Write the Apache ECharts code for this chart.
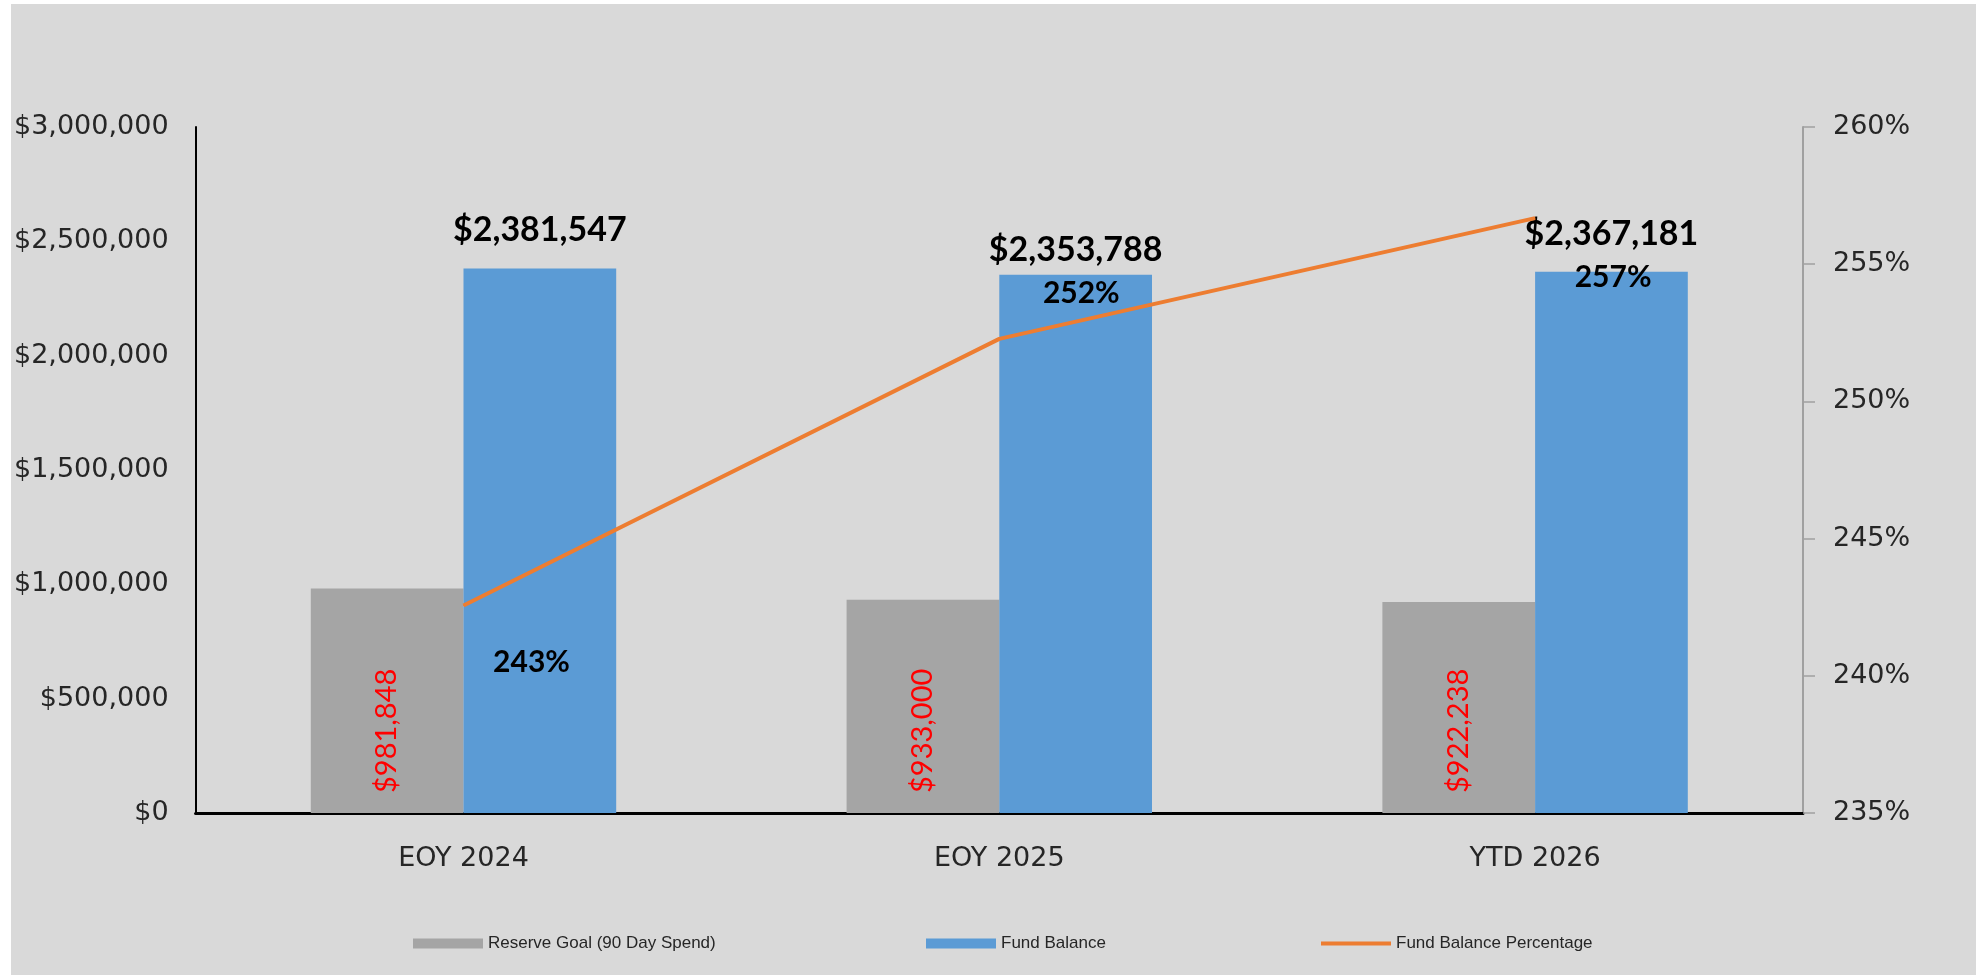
<!DOCTYPE html>
<html>
<head>
<meta charset="utf-8">
<script src="https://cdn.jsdelivr.net/npm/echarts@6/dist/echarts.min.js"></script>
<style>
  html, body { margin: 0; padding: 0; background: #ffffff; width: 1977px; height: 975px; overflow: hidden; }
  #chart { position: absolute; left: 11px; top: 4px; width: 1965px; height: 971px; }
</style>
</head>
<body>
<div id="chart"></div>
<script>
const categories = ['EOY 2024', 'EOY 2025', 'YTD 2026'];
const reserveGoal = [981848, 933000, 922238];
const fundBalance = [2381547, 2353788, 2367181];
const fundBalancePct = [242.56, 252.28, 256.68];
const pctLabels = ['243%', '252%', '257%'];
const leftAxisMin = 0, leftAxisMax = 3000000, leftAxisStep = 500000;
const rightAxisMin = 235, rightAxisMax = 260, rightAxisStep = 5;
const seriesNames = ['Reserve Goal (90 Day Spend)', 'Fund Balance', 'Fund Balance Percentage'];

const money = v => '$' + Number(v).toLocaleString('en-US');
const axisFont = { fontFamily: 'DejaVu Sans', fontSize: 27, color: '#262626' };
const legendFont = { fontFamily: 'Liberation Sans Narrow, Liberation Sans, Arial', fontSize: 17, color: '#262626' };

const chart = echarts.init(document.getElementById('chart'));

const blueLabelOffsets = [[0, 0], [0, 13], [0, 0]];
const pctOffsets = [[68, 57], [82, -46], [78, 59]];

chart.setOption({
  backgroundColor: '#D9D9D9',
  animation: false,
  grid: { left: 181, right: 173, top: 123, bottom: 162, containLabel: false },
  legend: [
    { left: 397, top: 926, itemWidth: 70, itemHeight: 10, itemGap: 10, textStyle: legendFont,
      data: [{ name: seriesNames[0], icon: 'rect' }] },
    { left: 910, top: 926, itemWidth: 70, itemHeight: 10, textStyle: legendFont,
      data: [{ name: seriesNames[1], icon: 'rect' }] },
    { left: 1305, top: 926, itemWidth: 70, itemHeight: 4, textStyle: legendFont,
      data: [{ name: seriesNames[2], icon: 'rect', itemStyle: { color: '#ED7D31' } }] }
  ],
  xAxis: {
    type: 'category',
    data: categories,
    boundaryGap: true,
    axisLine: { show: true, lineStyle: { color: '#000000', width: 3 } },
    axisTick: { show: false },
    axisLabel: Object.assign({ margin: 32 }, axisFont),
    splitLine: { show: false }
  },
  yAxis: [
    {
      type: 'value', min: leftAxisMin, max: leftAxisMax, interval: leftAxisStep,
      axisLine: { show: true, lineStyle: { color: '#000000', width: 2 } },
      axisTick: { show: false },
      splitLine: { show: false },
      axisLabel: Object.assign({ margin: 27, formatter: v => money(v) }, axisFont)
    },
    {
      type: 'value', min: rightAxisMin, max: rightAxisMax, interval: rightAxisStep,
      position: 'right',
      axisLine: { show: true, lineStyle: { color: '#A0A0A0', width: 2 } },
      axisTick: { show: true, inside: false, length: 12, lineStyle: { color: '#A0A0A0', width: 1.5 } },
      splitLine: { show: false },
      axisLabel: Object.assign({ margin: 30, formatter: '{value}%' }, axisFont)
    }
  ],
  series: [
    {
      name: seriesNames[0],
      type: 'bar',
      yAxisIndex: 0,
      barGap: '0%',
      barCategoryGap: '43%',
      itemStyle: { color: '#A5A5A5' },
      label: {
        show: true, position: 'insideBottom', rotate: 90, distance: 20,
        align: 'left', verticalAlign: 'middle',
        formatter: p => money(p.value),
        fontFamily: 'Lato, Open Sans, sans-serif', fontSize: 29, color: '#FF0000'
      },
      data: reserveGoal
    },
    {
      name: seriesNames[1],
      type: 'bar',
      yAxisIndex: 0,
      barGap: '0%',
      barCategoryGap: '43%',
      itemStyle: { color: '#5B9BD5' },
      label: {
        show: true, position: 'top', distance: 21,
        formatter: p => money(p.value),
        fontFamily: 'Lato, Open Sans, sans-serif', fontWeight: 'bold', fontSize: 34, color: '#000000'
      },
      data: fundBalance.map((v, i) => ({ value: v, label: { offset: blueLabelOffsets[i] } }))
    },
    {
      name: seriesNames[2],
      type: 'line',
      yAxisIndex: 1,
      symbol: 'circle',
      symbolSize: 1,
      showSymbol: true,
      itemStyle: { color: '#ED7D31' },
      lineStyle: { color: '#ED7D31', width: 4 },
      label: {
        show: true, position: 'inside',
        fontFamily: 'Lato, Open Sans, sans-serif', fontWeight: 'bold', fontSize: 30, color: '#000000'
      },
      data: fundBalancePct.map((v, i) => ({
        value: v,
        label: { formatter: pctLabels[i], offset: pctOffsets[i] }
      })),
      z: 5
    }
  ]
});
</script>
</body>
</html>
